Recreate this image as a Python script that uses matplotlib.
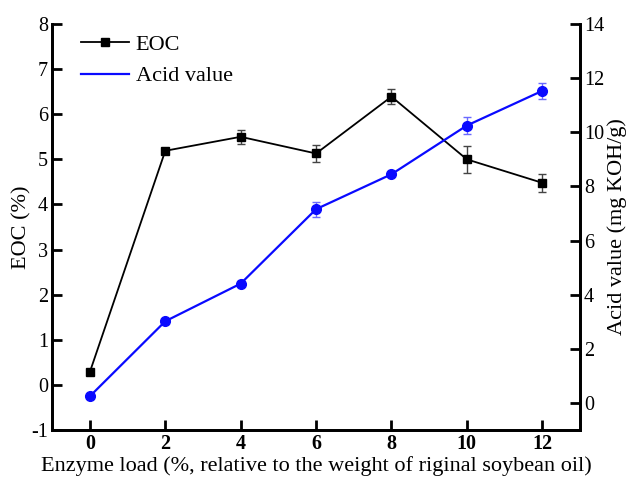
import numpy as np
import matplotlib
matplotlib.use("Agg")
import matplotlib.pyplot as plt

plt.rcParams['font.family'] = ['Liberation Serif', 'DejaVu Serif']
plt.rcParams['axes.unicode_minus'] = False

# enzyme load (%)
load = [0, 2, 4, 6, 8, 10, 12]

# epoxy oxygen content (%)
eoc = [0.29, 5.19, 5.50, 5.13, 6.39, 5.00, 4.48]
eoc_err = [0.03, 0.05, 0.15, 0.18, 0.16, 0.30, 0.20]

# acid value (mg KOH/g)
acid = [0.25, 3.02, 4.41, 7.16, 8.45, 10.25, 11.53]
acid_err = [0.05, 0.10, 0.10, 0.28, 0.05, 0.33, 0.30]

fig = plt.figure(figsize=(6.29, 4.8), dpi=100)
ax = fig.add_axes([0.083, 0.104, 0.839, 0.846])
ax2 = ax.twinx()

l1, = ax.plot(load, eoc, color='black', marker='s', markersize=5.5, linewidth=1.3, zorder=3)
ax.errorbar(load, eoc, yerr=eoc_err, fmt='none', ecolor='#444444',
            elinewidth=1.0, capsize=3, capthick=1.0, zorder=2)

l2, = ax2.plot(load, acid, color='#0a0aff', marker='o', markersize=7, linewidth=1.6, zorder=3)
ax2.errorbar(load, acid, yerr=acid_err, fmt='none', ecolor='#6a6aff',
             elinewidth=1.0, capsize=3, capthick=1.0, zorder=2)

ax.set_xlim(-1, 13)
ax.set_ylim(-1, 8)
ax2.set_ylim(-1, 14)
ax.set_xticks(load)
ax.set_yticks(range(-1, 9))
ax2.set_yticks(range(0, 15, 2))

for a in (ax, ax2):
    a.spines['top'].set_visible(False)
    for s in ('left', 'right', 'bottom'):
        a.spines[s].set_linewidth(2.0)
    a.tick_params(direction='in', length=7, width=2.0, labelsize=14.5, pad=3)

for lab in ax.get_xticklabels():
    lab.set_fontweight('bold')

ax.set_xlabel('Enzyme load (%, relative to the weight of riginal soybean oil)', fontsize=16, labelpad=1)
ax.set_ylabel('EOC (%)', fontsize=16, labelpad=0)
ax2.set_ylabel('Acid value (mg KOH/g)', fontsize=16, labelpad=2)

# legend: acid value entry drawn as a plain line
h2 = plt.Line2D([], [], color='#0a0aff', linewidth=1.6)
ax.legend([l1, h2], ['EOC', 'Acid value'], loc='upper left', frameon=False,
          fontsize=16, handlelength=2.15, handletextpad=0.3, labelspacing=0.5,
          borderaxespad=0.2, bbox_to_anchor=(0.03, 1.008))

fig.savefig('out.png', dpi=100)
